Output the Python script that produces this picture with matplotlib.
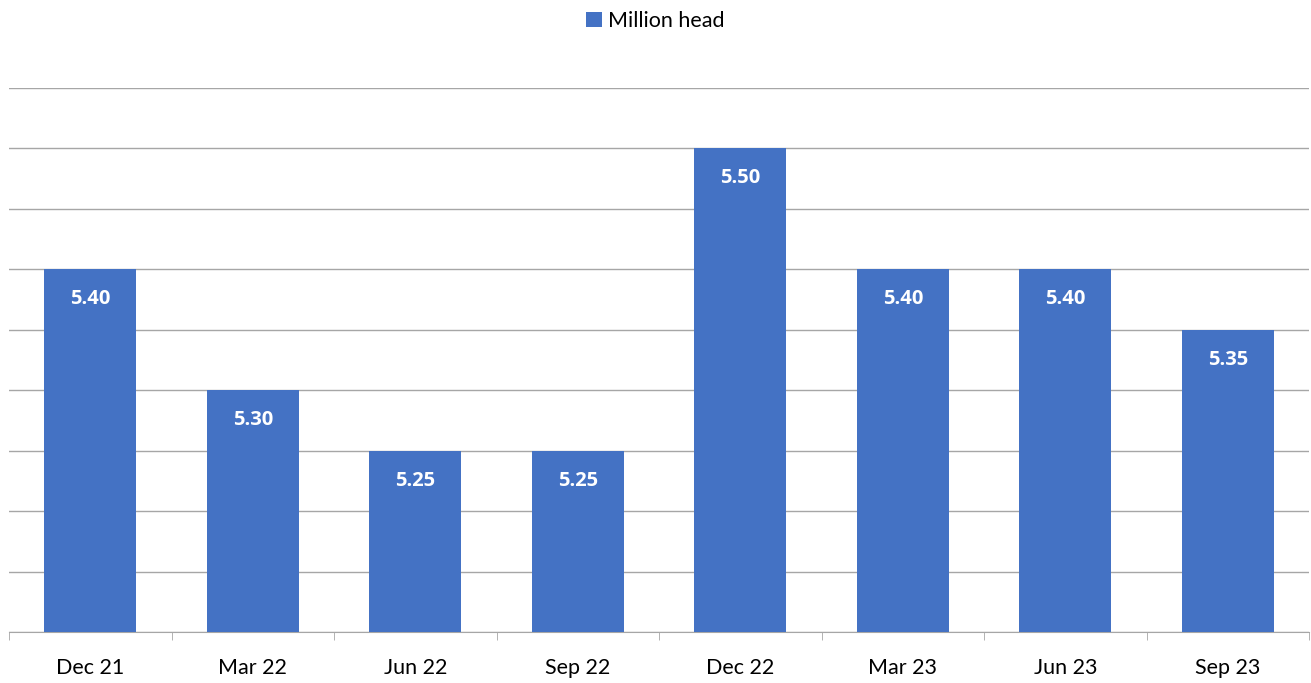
import matplotlib.pyplot as plt
import numpy as np

quarters = ['Dec 21', 'Mar 22', 'Jun 22', 'Sep 22', 'Dec 22', 'Mar 23', 'Jun 23', 'Sep 23']
million_head = [5.40, 5.30, 5.25, 5.25, 5.50, 5.40, 5.40, 5.35]

plt.rcParams['font.family'] = ['Lato', 'DejaVu Sans']

fig = plt.figure(figsize=(13.11, 6.83), dpi=100)
ax = fig.add_axes([9 / 1311, 1 - 632 / 683, 1300 / 1311, (632 - 88) / 683])

x = np.arange(len(quarters))
bars = ax.bar(x, million_head, width=0.566, color='#4472C4', zorder=3, label='Million head')

for b, v in zip(bars, million_head):
    ax.annotate(f'{v:.2f}', (b.get_x() + b.get_width() / 2, v), xytext=(0, -30),
                textcoords='offset pixels', family=['Open Sans', 'DejaVu Sans'],
                ha='center', va='center', color='white', fontsize=14.5, fontweight='bold')

ax.set_xlim(-0.5, len(quarters) - 0.5)
ax.set_ylim(5.10, 5.55)
ax.set_yticks(np.arange(5.10, 5.551, 0.05))
ax.yaxis.grid(True, color='#A6A6A6', linewidth=1, zorder=0)
ax.tick_params(axis='y', left=False, labelleft=False)

ax.set_xticks(x)
ax.set_xticklabels(quarters, fontsize=15.5)
ax.set_xticks(np.arange(-0.5, len(quarters)), minor=True)
ax.tick_params(axis='x', which='major', length=0, pad=19)
ax.tick_params(axis='x', which='minor', length=6, color='#A6A6A6')

for s in ['top', 'right', 'left']:
    ax.spines[s].set_visible(False)
ax.spines['bottom'].set_color('#A6A6A6')

fig.legend(handles=[bars], labels=['Million head'], loc='upper center', bbox_to_anchor=(0.5, 1.012),
           frameon=False, fontsize=15.5, handlelength=0.7, handleheight=0.7, handletextpad=0.3)

fig.savefig('out.png', dpi=100)
